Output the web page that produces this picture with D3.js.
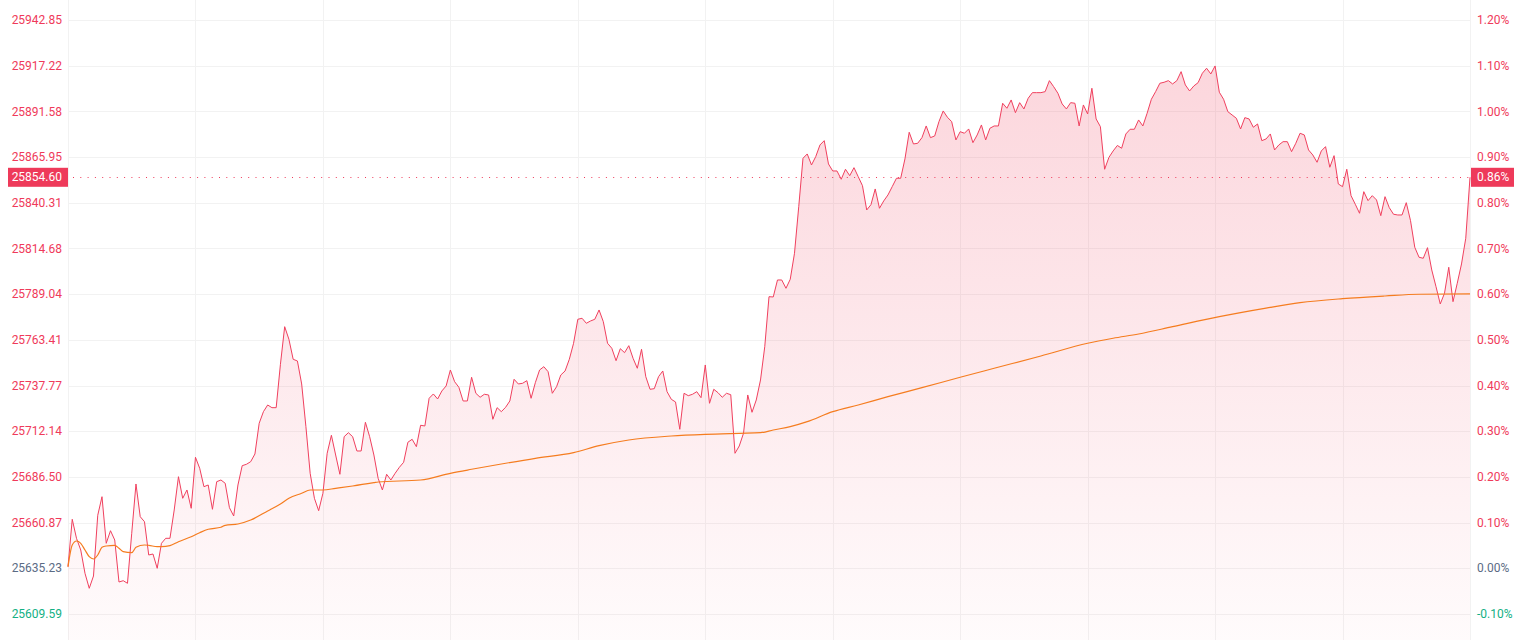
<!DOCTYPE html>
<html>
<head>
<meta charset="utf-8">
<script src="https://cdn.jsdelivr.net/npm/d3@7"></script>
<style>
  html, body { margin: 0; padding: 0; background: #fff; }
  svg { display: block; font-family: Roboto, "Noto Sans", sans-serif; }
</style>
</head>
<body>
<div id="chart"></div>
<script>
// Previous close, the 0.00% line.
const prevClose = 25635.23;
const lastPrice = 25854.60;

// Axis ticks (price), each one is 0.10% apart.
const tickPrices = [25609.59, 25635.23, 25660.87, 25686.50, 25712.14, 25737.77, 25763.41,
                    25789.04, 25814.68, 25840.31, 25865.95, 25891.58, 25917.22, 25942.85];

// One price a minute, 09:30 - 12:00 then 13:00 - 16:00 (331 points).
const prices = [
  25636.12, 25662.72, 25652.06, 25645.49, 25632.42, 25624.00, 25630.91, 25664.97, 25675.40, 25649.25,
  25656.32, 25651.11, 25627.54, 25628.27, 25626.81, 25654.87, 25682.53, 25664.18, 25661.37, 25642.69,
  25643.25, 25635.23, 25649.25, 25652.06, 25652.06, 25667.94, 25686.62, 25674.50, 25679.16, 25668.89,
  25697.51, 25691.34, 25681.01, 25681.97, 25668.33, 25683.82, 25684.77, 25682.92, 25669.23, 25664.57,
  25681.97, 25692.80, 25693.58, 25695.04, 25699.36, 25716.59, 25723.10, 25726.85, 25725.34, 25725.34,
  25749.69, 25770.79, 25763.72, 25752.50, 25751.54, 25738.64, 25714.68, 25688.53, 25674.50, 25667.55,
  25677.31, 25699.75, 25709.85, 25698.80, 25687.97, 25709.07, 25711.31, 25709.07, 25701.04, 25701.04,
  25717.15, 25709.07, 25698.80, 25685.73, 25679.16, 25687.97, 25684.77, 25688.53, 25691.90, 25694.70,
  25705.93, 25707.61, 25703.46, 25715.46, 25715.07, 25730.61, 25733.03, 25730.22, 25734.71, 25737.52,
  25746.49, 25739.93, 25736.79, 25729.10, 25729.10, 25742.40, 25733.42, 25731.18, 25732.86, 25732.47,
  25718.83, 25725.34, 25723.10, 25725.56, 25729.10, 25741.28, 25738.64, 25739.03, 25740.49, 25730.61,
  25739.37, 25746.49, 25748.34, 25745.54, 25733.42, 25737.12, 25743.69, 25745.93, 25752.50, 25761.47,
  25774.94, 25775.50, 25772.70, 25773.99, 25774.94, 25780.16, 25773.59, 25761.47, 25758.67, 25751.71,
  25758.44, 25756.20, 25760.13, 25753.06, 25747.45, 25758.11, 25742.73, 25735.66, 25736.00, 25742.73,
  25745.93, 25734.32, 25730.05, 25728.54, 25713.22, 25733.42, 25732.07, 25732.86, 25734.32, 25730.95,
  25749.30, 25727.81, 25735.66, 25733.76, 25731.18, 25733.42, 25732.63, 25699.75, 25703.85, 25710.98,
  25732.47, 25722.76, 25729.66, 25740.88, 25759.57, 25787.62, 25787.45, 25796.99, 25796.99, 25792.33,
  25797.38, 25811.97, 25838.12, 25865.28, 25867.69, 25861.52, 25866.18, 25872.74, 25875.15, 25862.08,
  25858.15, 25858.15, 25853.49, 25859.11, 25855.51, 25860.00, 25854.95, 25849.90, 25836.27, 25839.24,
  25848.05, 25837.22, 25841.32, 25844.69, 25849.34, 25854.06, 25854.06, 25864.89, 25879.87, 25873.30,
  25873.69, 25876.84, 25883.40, 25876.84, 25877.79, 25885.81, 25891.82, 25888.28, 25885.81, 25875.55,
  25880.20, 25879.31, 25881.72, 25874.03, 25878.35, 25883.96, 25875.55, 25882.11, 25883.40, 25883.40,
  25896.14, 25893.33, 25897.99, 25890.86, 25896.48, 25892.94, 25898.94, 25902.09, 25902.09, 25902.09,
  25902.65, 25908.82, 25905.45, 25901.75, 25895.75, 25892.94, 25896.48, 25896.14, 25883.40, 25895.18,
  25890.13, 25904.55, 25887.33, 25883.01, 25859.11, 25865.73, 25869.37, 25872.46, 25870.89, 25878.91,
  25881.55, 25881.55, 25886.77, 25883.40, 25890.53, 25898.38, 25902.65, 25907.36, 25907.92, 25908.82,
  25906.97, 25908.82, 25913.87, 25906.41, 25903.04, 25905.85, 25907.70, 25912.97, 25915.78, 25912.58,
  25917.07, 25902.31, 25898.38, 25891.43, 25889.57, 25887.72, 25881.72, 25888.06, 25887.33, 25882.67,
  25884.52, 25875.15, 25876.11, 25878.91, 25869.93, 25872.74, 25874.59, 25874.59, 25868.98, 25873.69,
  25879.31, 25878.35, 25869.93, 25867.13, 25863.03, 25869.37, 25871.79, 25860.23, 25866.74, 25850.86,
  25849.34, 25859.11, 25844.29, 25839.47, 25834.42, 25846.54, 25841.49, 25844.29, 25841.88, 25833.07,
  25843.73, 25837.56, 25833.86, 25833.46, 25833.46, 25840.37, 25830.26, 25815.34, 25809.73, 25809.17,
  25815.12, 25802.60, 25793.23, 25783.53, 25789.53, 25804.12, 25784.82, 25795.14, 25805.97, 25820.39,
  25854.60
];

// Average price line, read at these minutes.
const avgMinutes = [0, 1, 2, 3, 4, 5, 6, 7, 8, 9, 11, 12, 13, 15, 16, 18, 19, 21, 22, 24, 26, 29, 31,
                    33, 36, 37, 40, 43, 47, 50, 52, 55, 57, 60, 63, 67, 72, 73, 83, 90, 95, 102, 110,
                    119, 125, 132, 142, 150, 158, 163, 166, 170, 174, 180, 186, 193, 201, 210, 218,
                    229, 240, 246, 252, 260, 271, 282, 290, 300, 310, 318, 330];
const avgPrices = [25636.12, 25648.30, 25650.54, 25649.25, 25645.49, 25641.74, 25640.45, 25642.69,
                   25647.01, 25647.74, 25648.13, 25646.45, 25644.54, 25643.98, 25647.01, 25648.30,
                   25648.13, 25647.35, 25647.35, 25647.91, 25650.15, 25652.96, 25655.20, 25657.11,
                   25658.23, 25659.35, 25660.08, 25662.33, 25667.38, 25671.31, 25674.50, 25677.31,
                   25679.16, 25679.16, 25680.11, 25681.41, 25683.26, 25683.65, 25684.77, 25688.53,
                   25690.78, 25693.75, 25696.95, 25700.09, 25704.02, 25707.22, 25709.46, 25710.41,
                   25710.98, 25711.31, 25712.83, 25714.68, 25717.48, 25723.10, 25726.85, 25731.51,
                   25736.56, 25742.40, 25747.45, 25754.35, 25761.47, 25764.28, 25766.69, 25770.79,
                   25776.40, 25781.20, 25784.26, 25786.50, 25788.01, 25788.97, 25789.14];

(function() {
  const width = 1533;
  const height = 640;
  const left = 68;
  const right = 1470;

  const upColor = '#ef3a5a';
  const flatColor = '#5b6b85';
  const downColor = '#13b084';

  const svg = d3.select('#chart')
    .append('svg')
    .attr('width', width)
    .attr('height', height);

  const x = d3.scaleLinear()
    .domain([0, prices.length - 1])
    .range([left, right]);

  const y = d3.scaleLinear()
    .domain([25595.00, 25954.07])
    .range([height, 0]);

  const pct = p => (p / prevClose - 1) * 100;
  const tickColor = p => {
    const v = Math.round(pct(p) * 100);
    return v > 0 ? upColor : (v < 0 ? downColor : flatColor);
  };

  // Gradient for the area under the price line.
  const grad = svg.append('defs')
    .append('linearGradient')
    .attr('id', 'fill')
    .attr('gradientUnits', 'userSpaceOnUse')
    .attr('x1', 0).attr('x2', 0)
    .attr('y1', y(d3.max(prices))).attr('y2', height);
  grad.append('stop').attr('offset', 0).attr('stop-color', 'rgb(240,60,90)').attr('stop-opacity', 0.21);
  grad.append('stop').attr('offset', 1).attr('stop-color', 'rgb(240,60,90)').attr('stop-opacity', 0.02);

  // Grid.
  const grid = svg.append('g').classed('grid', true);
  grid.selectAll('line.h')
    .data(tickPrices)
    .enter()
    .append('line')
    .attr('x1', left)
    .attr('x2', right)
    .attr('y1', d => Math.round(y(d)) + 0.5)
    .attr('y2', d => Math.round(y(d)) + 0.5)
    .style('stroke', '#f2f2f2')
    .style('stroke-width', 1);
  grid.selectAll('line.v')
    .data(d3.range(0, prices.length, 30))
    .enter()
    .append('line')
    .attr('x1', d => Math.round(x(d)) + 0.5)
    .attr('x2', d => Math.round(x(d)) + 0.5)
    .attr('y1', 0)
    .attr('y2', height)
    .style('stroke', '#f2f2f2')
    .style('stroke-width', 1);

  // Area + price line.
  const area = d3.area()
    .x((d, i) => x(i))
    .y0(height)
    .y1(d => y(d));
  svg.append('path')
    .datum(prices)
    .attr('d', area)
    .style('fill', 'url(#fill)');

  const line = d3.line()
    .x((d, i) => x(i))
    .y(d => y(d));
  svg.append('path')
    .datum(prices)
    .attr('d', line)
    .style('fill', 'none')
    .style('stroke', '#f0405e')
    .style('stroke-width', 1);

  // Average line.
  const avgLine = d3.line()
    .curve(d3.curveMonotoneX)
    .x(d => x(d[0]))
    .y(d => y(d[1]));
  svg.append('path')
    .datum(d3.zip(avgMinutes, avgPrices))
    .attr('d', avgLine)
    .style('fill', 'none')
    .style('stroke', '#f57c1f')
    .style('stroke-width', 1.2);

  // Dotted last price line.
  svg.append('line')
    .attr('x1', left + 5)
    .attr('x2', right)
    .attr('y1', Math.round(y(lastPrice)) + 0.5)
    .attr('y2', Math.round(y(lastPrice)) + 0.5)
    .style('stroke', upColor)
    .style('stroke-width', 1)
    .style('stroke-dasharray', '1,6.3');

  // Left axis (price).
  svg.append('g')
    .selectAll('text')
    .data(tickPrices)
    .enter()
    .append('text')
    .text(d => d.toFixed(2))
    .attr('x', left - 6)
    .attr('y', d => y(d))
    .attr('dy', '0.35em')
    .style('text-anchor', 'end')
    .style('font-size', '12px')
    .style('fill', tickColor);

  // Right axis (percent).
  svg.append('g')
    .selectAll('text')
    .data(tickPrices)
    .enter()
    .append('text')
    .text(d => pct(d).toFixed(2) + '%')
    .attr('x', right + 7)
    .attr('y', d => y(d))
    .attr('dy', '0.35em')
    .style('text-anchor', 'start')
    .style('font-size', '12px')
    .style('fill', tickColor);

  // Last price tags on both sides.
  const ly = y(lastPrice);
  const tags = [
    { x: 8, w: left - 8, text: lastPrice.toFixed(2), tx: left - 6, anchor: 'end' },
    { x: right + 1, w: 43, text: pct(lastPrice).toFixed(2) + '%', tx: right + 7, anchor: 'start' }
  ];
  const tag = svg.append('g')
    .selectAll('g')
    .data(tags)
    .enter()
    .append('g');
  tag.append('rect')
    .attr('x', d => d.x)
    .attr('y', ly - 9.5)
    .attr('width', d => d.w)
    .attr('height', 19)
    .style('fill', '#ee3a5a');
  tag.append('text')
    .text(d => d.text)
    .attr('x', d => d.tx)
    .attr('y', ly)
    .attr('dy', '0.35em')
    .style('text-anchor', d => d.anchor)
    .style('font-size', '12px')
    .style('fill', '#fff');
})();
</script>
</body>
</html>
